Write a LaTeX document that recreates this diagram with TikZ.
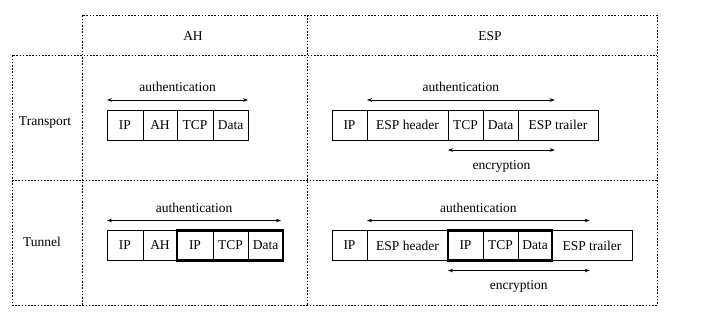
\documentclass[tikz,border=0pt]{standalone}
\usepackage{fontspec}
\setmainfont{Liberation Serif}
\usetikzlibrary{arrows.meta,calc}
\begin{document}
\begin{tikzpicture}[x=1pt,y=-1pt,
  txt/.style={font=\fontsize{13.5}{15}\selectfont, inner sep=0pt},
  cell/.style={draw, line width=0.7pt, minimum height=30pt, inner sep=0pt, outer sep=0pt, anchor=west, font=\fontsize{13.5}{15}\selectfont},
  thickbox/.style={draw, line width=2.2pt},
  grid/.style={line width=0.7pt, dash pattern=on 1.6pt off 1.6pt},
  dim/.style={line width=0.7pt, {Stealth[length=5pt,width=3.5pt]}-{Stealth[length=5pt,width=3.5pt]}}
]
\useasboundingbox (0,0) rectangle (704,317);
% grid
\draw[grid] (82,305) -- (82,15) -- (657,15) -- (657,305) -- (12,305) -- (12,55) -- (657,55);
\draw[grid] (12,180) -- (657,180);
\draw[grid] (307,15) -- (307,305);
% headers
\node[txt] (hah) at (193,36) {AH};
\node[txt] (hesp) at (490,36) {ESP};
\node[txt] (rtr) at (45,123) {Transport};
\node[txt] (rtu) at (42,242) {Tunnel};
% transport AH
\node[cell, minimum width=36pt] (ta1) at (107,125) {IP};
\node[cell, minimum width=34pt] (ta2) at (ta1.east) {AH};
\node[cell, minimum width=36pt] (ta3) at (ta2.east) {TCP};
\node[cell, minimum width=35pt] (ta4) at (ta3.east) {Data};
\draw[dim] ([yshift=10pt]ta1.north west) -- node[txt, above=8pt] (tal) {authentication} ([yshift=10pt]ta4.north east);
% transport ESP
\node[cell, minimum width=35pt] (te1) at (332,125) {IP};
\node[cell, minimum width=81pt] (te2) at (te1.east) {ESP header};
\node[cell, minimum width=35pt] (te3) at (te2.east) {TCP};
\node[cell, minimum width=35pt] (te4) at (te3.east) {Data};
\node[cell, minimum width=80pt] (te5) at (te4.east) {ESP trailer};
\coordinate (teA) at ($(te5.north west)!0.46!(te5.north east)$);
\coordinate (teB) at ($(te5.south west)!0.46!(te5.south east)$);
\draw[dim] ([yshift=10pt]te2.north west) -- node[txt, above=8pt] (teal) {authentication} ([yshift=10pt]teA);
\draw[dim] ([yshift=-10pt]te3.south west) -- node[txt, below=10pt] (teel) {encryption} ([yshift=-10pt]teB);
% tunnel AH
\node[cell, minimum width=36pt] (ua1) at (107,245.5) {IP};
\node[cell, minimum width=34pt] (ua2) at (ua1.east) {AH};
\node[cell, minimum width=36pt] (ua3) at (ua2.east) {IP};
\node[cell, minimum width=35pt] (ua4) at (ua3.east) {TCP};
\node[cell, minimum width=35pt] (ua5) at (ua4.east) {Data};
\draw[thickbox] (ua3.north west) rectangle (ua5.south east);
\draw[dim] ([yshift=10pt]ua1.north west) -- node[txt, above=8pt] (ual) {authentication} ([yshift=10pt,xshift=-2pt]ua5.north east);
% tunnel ESP
\node[cell, minimum width=35pt] (ue1) at (332,245.5) {IP};
\node[cell, minimum width=81pt] (ue2) at (ue1.east) {ESP header};
\node[cell, minimum width=35pt] (ue3) at (ue2.east) {IP};
\node[cell, minimum width=35pt] (ue4) at (ue3.east) {TCP};
\node[cell, minimum width=34pt] (ue5) at (ue4.east) {Data};
\node[cell, minimum width=80pt] (ue6) at (ue5.east) {ESP trailer};
\draw[thickbox] (ue3.north west) rectangle (ue5.south east);
\coordinate (ueA) at ($(ue6.north west)!0.47!(ue6.north east)$);
\coordinate (ueB) at ($(ue6.south west)!0.47!(ue6.south east)$);
\draw[dim] ([yshift=10pt]ue2.north west) -- node[txt, above=8pt] (ueal) {authentication} ([yshift=10pt]ueA);
\draw[dim] ([yshift=-10pt]ue3.south west) -- node[txt, below=10pt] (ueel) {encryption} ([yshift=-10pt]ueB);
\end{tikzpicture}
\end{document}
